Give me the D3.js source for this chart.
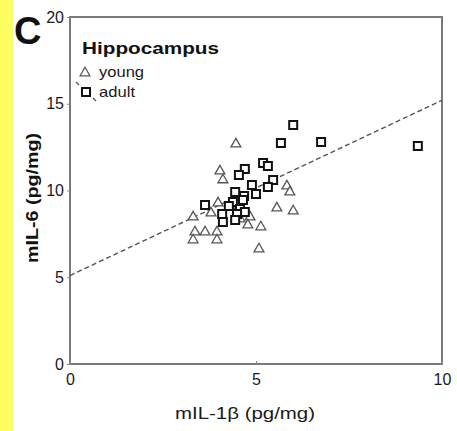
<!DOCTYPE html>
<html><head><meta charset="utf-8">
<script src="https://cdn.jsdelivr.net/npm/d3@7"></script>
<style>body{margin:0;background:#fff;}svg{display:block;font-family:Arial,"Liberation Sans",sans-serif;}</style>
</head><body>
<script>
const youngX = [4.46,4.03,4.11,3.31,3.79,3.98,3.36,3.63,3.31,3.95,3.95,4.84,4.78,5.13,5.08,5.56,6.0,5.83,5.91,4.57,4.3];
const youngY = [12.68,11.12,10.61,8.47,8.70,9.28,7.61,7.61,7.15,7.61,7.15,8.47,8.01,7.90,6.63,8.99,8.82,10.26,9.91,8.36,9.1];
const adultX = [9.35,6.0,5.67,6.75,5.19,5.32,4.70,4.54,5.46,5.32,4.89,5.0,4.68,4.44,4.38,4.65,4.57,4.70,4.49,4.44,3.63,4.27,4.09,4.11];
const adultY = [12.56,13.77,12.74,12.80,11.59,11.41,11.24,10.89,10.61,10.2,10.32,9.8,9.68,9.91,9.34,9.45,8.93,8.76,8.65,8.30,9.16,9.11,8.65,8.18];
const xTicks = [0,5,10];
const yTicks = [0,5,10,15,20];
const fitLine = {x0:0, y0:5.1, x1:10, y1:15.2};

const W=457,H=431;
const svg=d3.select("body").append("svg").attr("width",W).attr("height",H);
svg.append("rect").attr("width",W).attr("height",H).attr("fill","#fff");
svg.append("rect").attr("x",0).attr("y",0).attr("width",13).attr("height",H).attr("fill","#fefe62");

const x=d3.scaleLinear().domain([0,10]).range([70,442]);
const y=d3.scaleLinear().domain([0,20]).range([364,17]);

// frame
svg.append("rect").attr("x",70).attr("y",17).attr("width",372).attr("height",347)
  .attr("fill","none").attr("stroke","#7a7a7a").attr("stroke-width",2);

const xAxis=d3.axisBottom(x).tickValues(xTicks).tickSize(-3).tickPadding(10).tickFormat(d3.format("d"));
const gx=svg.append("g").attr("transform","translate(0,364)").call(xAxis);
gx.select(".domain").remove();
gx.selectAll("line").attr("stroke","#888");
gx.selectAll("text").attr("font-size",16).attr("fill","#1a1a1a");

const yAxis=d3.axisLeft(y).tickValues(yTicks).tickSize(3).tickPadding(3).tickFormat(d3.format("d"));
const gy=svg.append("g").attr("transform","translate(70,0)").call(yAxis);
gy.select(".domain").remove();
gy.selectAll("line").attr("stroke","#888");
gy.selectAll("text").attr("font-size",16).attr("fill","#1a1a1a");

// dashed fit line
svg.append("line").attr("x1",x(fitLine.x0)).attr("y1",y(fitLine.y0)).attr("x2",x(fitLine.x1)).attr("y2",y(fitLine.y1))
  .attr("stroke","#555").attr("stroke-width",1.4).attr("stroke-dasharray","5,3");

const tri=d3.symbol().type(d3.symbolTriangle).size(42);
const sq=d3.symbol().type(d3.symbolSquare).size(64);

svg.append("g").selectAll("path").data(youngX.map((v,i)=>[v,youngY[i]])).join("path")
  .attr("d",tri).attr("transform",d=>`translate(${x(d[0])},${y(d[1])})`)
  .attr("fill","#fff").attr("stroke","#555").attr("stroke-width",1.3);
svg.append("g").selectAll("path").data(adultX.map((v,i)=>[v,adultY[i]])).join("path")
  .attr("d",sq).attr("transform",d=>`translate(${x(d[0])},${y(d[1])})`)
  .attr("fill","#fff").attr("stroke","#111").attr("stroke-width",2);

// legend
svg.append("path").attr("d",tri).attr("transform","translate(85,73)").attr("fill","#fff").attr("stroke","#555").attr("stroke-width",1.2);
svg.append("text").attr("x",99).attr("y",77).attr("font-size",15).attr("fill","#1a1a1a")
  .attr("textLength",45).attr("lengthAdjust","spacingAndGlyphs").text("young");
svg.append("path").attr("d",sq).attr("transform","translate(86,92)").attr("fill","#fff").attr("stroke","#111").attr("stroke-width",2);
svg.append("text").attr("x",99).attr("y",97).attr("font-size",15).attr("fill","#1a1a1a")
  .attr("textLength",36).attr("lengthAdjust","spacingAndGlyphs").text("adult");
svg.append("line").attr("x1",76).attr("y1",82).attr("x2",79).attr("y2",85).attr("stroke","#555").attr("stroke-width",1.2);
svg.append("line").attr("x1",93).attr("y1",98).attr("x2",96).attr("y2",101).attr("stroke","#555").attr("stroke-width",1.2);

// title and panel letter
svg.append("text").attr("x",82).attr("y",54).attr("font-size",17).attr("font-weight","bold").attr("fill","#111")
  .attr("textLength",137).attr("lengthAdjust","spacingAndGlyphs").text("Hippocampus");
svg.append("text").attr("x",14).attr("y",44).attr("font-size",38).attr("font-weight","bold").attr("fill","#111").text("C");

// axis labels
svg.append("text").attr("x",175).attr("y",419).attr("font-size",16).attr("fill","#1a1a1a")
  .attr("textLength",140).attr("lengthAdjust","spacingAndGlyphs").text("mIL-1β (pg/mg)");
svg.append("text").attr("transform","translate(38,263) rotate(-90)").attr("font-size",16).attr("font-weight","bold").attr("fill","#111")
  .attr("textLength",130).attr("lengthAdjust","spacingAndGlyphs").text("mIL-6 (pg/mg)");
</script>
</body></html>
